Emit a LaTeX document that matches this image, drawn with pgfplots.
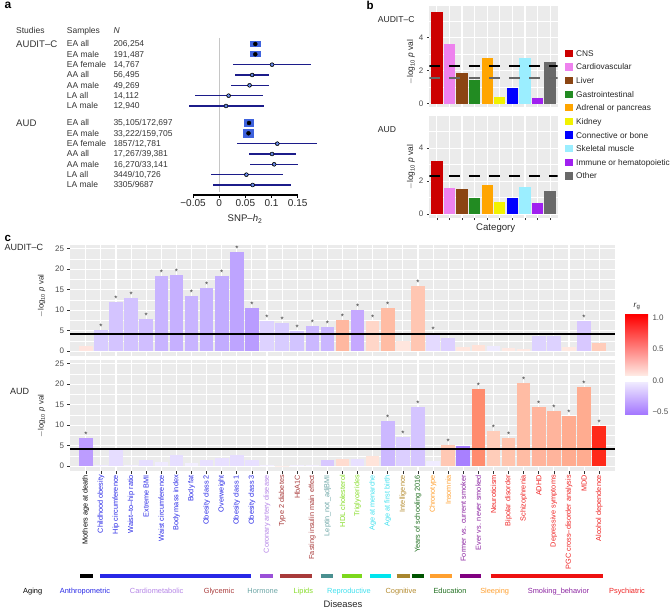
\documentclass[border=0pt]{standalone}
\usepackage{fontspec}
\setmainfont{Liberation Sans}
\setsansfont{Liberation Sans}
\usepackage{pgfplots}
\pgfplotsset{compat=1.18}

\definecolor{ggbg}{HTML}{EBEBEB}
\definecolor{ggtick}{HTML}{333333}
\definecolor{ggtext}{HTML}{4D4D4D}
\definecolor{navy}{HTML}{1C1C8A}
\definecolor{fblue}{HTML}{3F63DD}
\definecolor{fdot}{HTML}{6A8CEB}
\definecolor{bCNS}{HTML}{CC0000}
\definecolor{bCar}{HTML}{EE82EE}
\definecolor{bLiv}{HTML}{8B4513}
\definecolor{bGas}{HTML}{228B22}
\definecolor{bAdr}{HTML}{FFA500}
\definecolor{bKid}{HTML}{F2F200}
\definecolor{bCon}{HTML}{0000FF}
\definecolor{bSke}{HTML}{9BEEFF}
\definecolor{bImm}{HTML}{A020F0}
\definecolor{bOth}{HTML}{696969}
\definecolor{gAging}{HTML}{000000}
\definecolor{gAnth}{HTML}{2828E6}
\definecolor{gCard}{HTML}{B484E6}
\definecolor{gGlyc}{HTML}{A83A3A}
\definecolor{gHorm}{HTML}{6BA5A5}
\definecolor{gLip}{HTML}{86DC28}
\definecolor{gRep}{HTML}{40E0EE}
\definecolor{gCog}{HTML}{B48C30}
\definecolor{gEdu}{HTML}{1E6E1E}
\definecolor{gSlp}{HTML}{FFA030}
\definecolor{gSmk}{HTML}{8A22A0}
\definecolor{gPsy}{HTML}{EE2222}
\definecolor{lCard}{HTML}{9A50D8}
\definecolor{lHorm}{HTML}{4A9090}
\definecolor{lLip}{HTML}{7CD81C}
\definecolor{lRep}{HTML}{00E5EE}
\definecolor{lCog}{HTML}{A8862E}
\definecolor{lEdu}{HTML}{005400}
\definecolor{lSmk}{HTML}{800080}
\definecolor{lPsy}{HTML}{EE1111}
\definecolor{cbTop}{HTML}{FF0000}
\definecolor{cbLow}{HTML}{FFEAE4}
\definecolor{cbLav}{HTML}{EEE8FF}
\definecolor{cbPur}{HTML}{A274FF}

\pgfdeclareplotmark{boxAC}{\pgfpathrectangle{\pgfpoint{-5.25pt}{-3pt}}{\pgfpoint{10.5pt}{6pt}}\pgfusepathqfill}
\pgfdeclareplotmark{boxAUD}{\pgfpathrectangle{\pgfpoint{-5.25pt}{-4.25pt}}{\pgfpoint{10.5pt}{8.5pt}}\pgfusepathqfill}

\pgfplotsset{
  gg/.style={scale only axis, axis background/.style={fill=ggbg}, axis line style={draw=none},
    grid=both, major grid style={white, line width=1.1pt}, minor grid style={white, line width=0.55pt},
    tick align=outside, major tick length=2.5pt, minor tick length=0pt,
    tick style={ggtick, line width=0.7pt}, tick pos=left,
    tick label style={text=ggtext, font=\fontsize{8}{9}\selectfont}},
  cbar/.style={ybar, bar width=0.9, bar shift=0pt, draw=none, fill=#1, forget plot},
  star/.style={ybar, bar width=0.9, bar shift=0pt, draw=none, fill=none, forget plot,
    nodes near coords={*}, nodes near coords style={font=\fontsize{8}{8}\selectfont, text=ggtick, inner sep=0.3pt, anchor=south}}
}
\newcommand{\cb}[4]{\definecolor{#1}{HTML}{#4}\addplot[cbar=#1] coordinates {(#2,#3)};}
\newcommand{\cl}[2]{\textcolor{#1}{#2}}
\newcommand{\lgp}{$-$log\textsubscript{10} \textit{p} val}

\begin{document}
\begin{tikzpicture}[font=\fontsize{7.4}{8.5}\selectfont]
\path[use as bounding box] (0pt,0pt) rectangle (670pt,-609pt);

%%%%%%%%%%%%%%%% panel a : forest
\begin{axis}[at={(193pt,-195pt)}, anchor=south west, scale only axis, width=104.7pt, height=157pt,
  xmin=-0.05, xmax=0.15, ymin=-195, ymax=-38, clip=false,
  axis x line*=bottom, axis y line=none,
  xtick={-0.05,0,0.05,0.1,0.15}, xticklabels={−0.05,0,0.05,0.1,0.15},
  tick align=outside, major tick length=3pt,
  x axis line style={line width=1.2pt, black}, xtick style={line width=1pt, black},
  x tick label style={font=\fontsize{10}{11}\selectfont, text=black!85, inner sep=1.5pt}]
\addplot[gray!45, line width=1.3pt] coordinates {(0,-38) (0,-192)};
\addplot[only marks, mark=boxAC, color=fblue] coordinates {(0.069,-44) (0.069,-54.3)};
\addplot[only marks, mark=boxAUD, color=fblue] coordinates {(0.057,-123) (0.056,-133.3)};
\addplot[only marks, mark=none, error bars/.cd, x dir=both, x explicit, error mark=none,
  error bar style={draw=navy, line width=1.2pt}] coordinates {
  (0.069,-44) += (0.008,0) -= (0.008,0)
  (0.069,-54.3) += (0.008,0) -= (0.008,0)
  (0.101,-64.7) += (0.074,0) -= (0.075,0)
  (0.063,-75) += (0.032,0) -= (0.032,0)
  (0.058,-85.3) += (0.037,0) -= (0.035,0)
  (0.018,-95.7) += (0.065,0) -= (0.064,0)
  (0.013,-106) += (0.072,0) -= (0.070,0)
  (0.057,-123) += (0.008,0) -= (0.008,0)
  (0.056,-133.3) += (0.008,0) -= (0.008,0)
  (0.111,-143.7) += (0.076,0) -= (0.076,0)
  (0.101,-154) += (0.045,0) -= (0.044,0)
  (0.105,-164.3) += (0.046,0) -= (0.047,0)
  (0.052,-174.7) += (0.069,0) -= (0.068,0)
  (0.064,-185) += (0.074,0) -= (0.075,0)
};
\addplot[only marks, mark=*, mark size=1.3pt, color=fdot] coordinates {
  (0.101,-64.7) (0.063,-75) (0.058,-85.3) (0.018,-95.7) (0.013,-106)
  (0.111,-143.7) (0.101,-154) (0.105,-164.3) (0.052,-174.7) (0.064,-185)};
\end{axis}

\begin{scope}[x=1pt, y=-1pt]
\node[anchor=base west, font=\fontsize{12}{12}\selectfont\bfseries] at (1,8.5) {a};
\node[anchor=base west, font=\fontsize{11.5}{12}\selectfont\bfseries] at (363,10) {b};
\node[anchor=base west, font=\fontsize{11.5}{12}\selectfont\bfseries] at (1,241.7) {c};
\begin{scope}[every node/.style={anchor=base west, text=black!80, font=\fontsize{8.5}{10}\selectfont, inner sep=0pt}]
\node at (16,33.3) {Studies};
\node at (66.7,33.3) {Samples};
\node at (113.3,33.3) {\textit{N}};
\node[font=\fontsize{9.6}{11}\selectfont] at (16,47.3) {AUDIT–C};
\node[font=\fontsize{9.6}{11}\selectfont] at (16,126.3) {AUD};
\node at (66.7,47) {EA all};      \node at (113.3,47) {206,254};
\node at (66.7,57.3) {EA male};   \node at (113.3,57.3) {191,487};
\node at (66.7,67.7) {EA female}; \node at (113.3,67.7) {14,767};
\node at (66.7,78) {AA all};      \node at (113.3,78) {56,495};
\node at (66.7,88.3) {AA male};   \node at (113.3,88.3) {49,269};
\node at (66.7,98.7) {LA all};    \node at (113.3,98.7) {14,112};
\node at (66.7,109) {LA male};    \node at (113.3,109) {12,940};
\node at (66.7,126) {EA all};      \node at (113.3,126) {35,105/172,697};
\node at (66.7,136.3) {EA male};   \node at (113.3,136.3) {33,222/159,705};
\node at (66.7,146.7) {EA female}; \node at (113.3,146.7) {1857/12,781};
\node at (66.7,157) {AA all};      \node at (113.3,157) {17,267/39,381};
\node at (66.7,167.3) {AA male};   \node at (113.3,167.3) {16,270/33,141};
\node at (66.7,177.7) {LA all};    \node at (113.3,177.7) {3449/10,726};
\node at (66.7,188) {LA male};     \node at (113.3,188) {3305/9687};
\end{scope}
\node[anchor=base, text=black!85, font=\fontsize{9.6}{11}\selectfont] at (245,222) {SNP–\textit{h}\textsubscript{2}};
\end{scope}

%%%%%%%%%%%%%%%% panel b
\begin{axis}[gg, at={(429.3pt,-107.3pt)}, anchor=south west, width=128.4pt, height=101.3pt,
  xmin=0.4, xmax=10.6, ymin=-0.22, ymax=5.92, xtick={1,...,10}, xticklabels={}, xtick style={draw=none},
  ytick={0,2,4}, yticklabels={0,2,4}, minor ytick={1,3,5}]
\addplot[cbar=bCNS] coordinates {(1,5.58)};
\addplot[cbar=bCar] coordinates {(2,3.64)};
\addplot[cbar=bLiv] coordinates {(3,1.88)};
\addplot[cbar=bGas] coordinates {(4,1.44)};
\addplot[cbar=bAdr] coordinates {(5,2.77)};
\addplot[cbar=bKid] coordinates {(6,0.42)};
\addplot[cbar=bCon] coordinates {(7,0.95)};
\addplot[cbar=bSke] coordinates {(8,2.75)};
\addplot[cbar=bImm] coordinates {(9,0.35)};
\addplot[cbar=bOth] coordinates {(10,2.55)};
\addplot[sharp plot, black, line width=1.8pt, dash pattern=on 11pt off 9pt] coordinates {(0.4,2.3) (10.6,2.3)};
\addplot[sharp plot, black!60, line width=1.8pt, dash pattern=on 11pt off 9pt] coordinates {(0.4,1.54) (10.6,1.54)};
\end{axis}

\begin{axis}[gg, at={(429.3pt,-217.7pt)}, anchor=south west, width=128.4pt, height=101.3pt,
  xmin=0.4, xmax=10.6, ymin=-0.22, ymax=5.92, xtick={1,...,10}, xticklabels={},
  ytick={0,2,4}, yticklabels={0,2,4}, minor ytick={1,3,5}]
\addplot[cbar=bCNS] coordinates {(1,3.21)};
\addplot[cbar=bCar] coordinates {(2,1.58)};
\addplot[cbar=bLiv] coordinates {(3,1.50)};
\addplot[cbar=bGas] coordinates {(4,0.97)};
\addplot[cbar=bAdr] coordinates {(5,1.76)};
\addplot[cbar=bKid] coordinates {(6,0.71)};
\addplot[cbar=bCon] coordinates {(7,0.97)};
\addplot[cbar=bSke] coordinates {(8,1.66)};
\addplot[cbar=bImm] coordinates {(9,0.65)};
\addplot[cbar=bOth] coordinates {(10,1.38)};
\addplot[sharp plot, black, line width=1.8pt, dash pattern=on 11pt off 9pt] coordinates {(0.4,2.3) (10.6,2.3)};
\end{axis}

\begin{scope}[x=1pt, y=-1pt]
\node[anchor=base west, text=black!85, font=\fontsize{8.6}{10}\selectfont] at (374.3,22.3) {AUDIT–C};
\node[anchor=base west, text=black!85, font=\fontsize{8.6}{10}\selectfont] at (374.3,133) {AUD};
\node[rotate=90, text=black!85, font=\fontsize{8.4}{10}\selectfont] at (411,62) {\lgp};
\node[rotate=90, text=black!85, font=\fontsize{8.4}{10}\selectfont] at (411,167) {\lgp};
\node[anchor=base, text=black!85, font=\fontsize{9.6}{11}\selectfont] at (495.7,230.7) {Category};
\foreach \c/\t [count=\i from 0] in {bCNS/CNS, bCar/Cardiovascular, bLiv/Liver, bGas/Gastrointestinal, bAdr/Adrenal or pancreas, bKid/Kidney, bCon/Connective or bone, bSke/Skeletal muscle, bImm/Immune or hematopoietic, bOth/Other}{
  \fill[\c] (565.3,53.3+13.63*\i-3.6) rectangle (572.6,53.3+13.63*\i+3.6);
  \node[anchor=base west, inner sep=0pt, text=black!85, font=\fontsize{8.3}{10}\selectfont] at (576,53.3+13.63*\i+3) {\t};
}
\end{scope}

%%%%%%%%%%%%%%%% panel c upper
\begin{axis}[gg, at={(70pt,-356pt)}, anchor=south west, width=545pt, height=111pt,
  xmin=-0.05, xmax=36.05, ymin=-1.2, ymax=25.9, xtick={1,...,35}, xticklabels={}, xtick style={draw=none},
  ytick={0,5,10,15,20,25}, yticklabels={0,5,10,15,20,25}, minor ytick={2.5,7.5,12.5,17.5,22.5}]
\cb{u1}{1}{1.3}{FFE4DE}
\cb{u2}{2}{5.1}{D8CCFF}
\cb{u3}{3}{11.9}{D4C4FF}
\cb{u4}{4}{13.0}{D2C2FF}
\cb{u5}{5}{7.8}{D0BEFF}
\cb{u6}{6}{18.3}{C8B4FF}
\cb{u7}{7}{18.6}{C6B0FF}
\cb{u8}{8}{13.4}{C8B4FF}
\cb{u9}{9}{15.3}{C6B2FF}
\cb{u10}{10}{18.4}{C2ACFF}
\cb{u11}{11}{24.2}{BEA4FF}
\cb{u12}{12}{10.4}{B99CFF}
\cb{u13}{13}{7.3}{DDD2FF}
\cb{u14}{14}{6.9}{D8CCFF}
\cb{u15}{15}{5.0}{D2C4FF}
\cb{u16}{16}{6.1}{CBB8FF}
\cb{u17}{17}{5.9}{CAB6FF}
\cb{u18}{18}{7.6}{FFB8A0}
\cb{u19}{19}{10.0}{C5A8FF}
\cb{u20}{20}{7.3}{FFD6C8}
\cb{u21}{21}{10.6}{FFBCA4}
\cb{u22}{22}{2.5}{FFE6DE}
\cb{u23}{23}{16.0}{FFC6B2}
\cb{u24}{24}{4.3}{E4DAFF}
\cb{u25}{25}{3.3}{DDD0FF}
\cb{u26}{26}{0.9}{FFE6DE}
\cb{u27}{27}{1.5}{FFE2D8}
\cb{u28}{28}{1.2}{EEEAFF}
\cb{u29}{29}{0.65}{FFE8E2}
\cb{u30}{30}{0.5}{FFE8E2}
\cb{u31}{31}{3.75}{DDD2FF}
\cb{u32}{32}{3.75}{DDD2FF}
\cb{u33}{33}{0.9}{FFE8E0}
\cb{u34}{34}{7.25}{D8C8FF}
\cb{u35}{35}{2.0}{FFCCBA}
\addplot[star] coordinates {(2,5.1)(3,11.9)(4,13.0)(5,7.8)(6,18.3)(7,18.6)(8,13.4)(9,15.3)(10,18.4)(11,24.2)(12,10.4)(13,7.3)(14,6.9)(15,5.0)(16,6.1)(17,5.9)(18,7.6)(19,10.0)(20,7.3)(21,10.6)(23,16.0)(24,4.3)(34,7.25)};
\addplot[sharp plot, black, line width=1.3pt] coordinates {(-0.05,4.15) (36.05,4.15)};
\end{axis}

%%%%%%%%%%%%%%%% panel c lower
\begin{axis}[gg, at={(70pt,-471pt)}, anchor=south west, width=545pt, height=111pt,
  xmin=-0.05, xmax=36.05, ymin=-1.2, ymax=25.9, xtick={1,...,35},
  ytick={0,5,10,15,20,25}, yticklabels={0,5,10,15,20,25}, minor ytick={2.5,7.5,12.5,17.5,22.5},
  x tick label style={rotate=90, anchor=east, font=\fontsize{7.3}{8}\selectfont, inner sep=1.5pt},
  xticklabels={\cl{gAging}{Mothers age at death},
    \cl{gAnth}{Childhood obesity}, \cl{gAnth}{Hip circumference}, \cl{gAnth}{Waist–to–hip ratio},
    \cl{gAnth}{Extreme BMI}, \cl{gAnth}{Waist circumference}, \cl{gAnth}{Body mass index},
    \cl{gAnth}{Body fat}, \cl{gAnth}{Obesity class 2}, \cl{gAnth}{Overweight},
    \cl{gAnth}{Obesity class 1}, \cl{gAnth}{Obesity class 3},
    \cl{gCard}{Coronary artery disease},
    \cl{gGlyc}{Type 2 diabetes}, \cl{gGlyc}{HbA1C}, \cl{gGlyc}{Fasting insulin main effect},
    \cl{gHorm}{Leptin\_not\_adjBMI},
    \cl{gLip}{HDL cholesterol}, \cl{gLip}{Triglycerides},
    \cl{gRep}{Age at menarche}, \cl{gRep}{Age at first birth},
    \cl{gCog}{Intelligence}, \cl{gEdu}{Years of schooling 2016},
    \cl{gSlp}{Chronotype}, \cl{gSlp}{Insomnia},
    \cl{gSmk}{Former vs. current smoker}, \cl{gSmk}{Ever vs. never smoked},
    \cl{gPsy}{Neuroticism}, \cl{gPsy}{Bipolar disorder}, \cl{gPsy}{Schizophrenia}, \cl{gPsy}{ADHD},
    \cl{gPsy}{Depressive symptoms}, \cl{gPsy}{PGC cross–disorder analysis}, \cl{gPsy}{MDD},
    \cl{gPsy}{Alcohol dependence}}]
\cb{l1}{1}{6.95}{BC9CFF}
\cb{l2}{2}{0.3}{EFEAFF}
\cb{l3}{3}{3.9}{E6DDFF}
\cb{l4}{4}{0.3}{F2EEFF}
\cb{l5}{5}{1.6}{E6DEFF}
\cb{l6}{6}{1.05}{EFEAFF}
\cb{l7}{7}{2.66}{E6DEFF}
\cb{l8}{8}{0.65}{F2EEFF}
\cb{l9}{9}{1.6}{E8E0FF}
\cb{l10}{10}{2.0}{E8E0FF}
\cb{l11}{11}{2.66}{E6DDFF}
\cb{l12}{12}{1.45}{E8E0FF}
\cb{l13}{13}{0.2}{F2EEFF}
\cb{l14}{14}{0.1}{FFF0EC}
\cb{l15}{15}{0.15}{F2EEFF}
\cb{l16}{16}{0.2}{F2EEFF}
\cb{l17}{17}{1.45}{D8C8FF}
\cb{l18}{18}{1.77}{FFDCD0}
\cb{l19}{19}{1.77}{E8E0FF}
\cb{l20}{20}{2.5}{FFE4DA}
\cb{l21}{21}{10.9}{CCB8FF}
\cb{l22}{22}{7.1}{DCCFFF}
\cb{l23}{23}{14.4}{D4C4FF}
\cb{l24}{24}{1.2}{F0ECFF}
\cb{l25}{25}{5.1}{FFC8B4}
\cb{l26}{26}{4.84}{A880FF}
\cb{l27}{27}{18.8}{FF8C6E}
\cb{l28}{28}{8.55}{FFCDBA}
\cb{l29}{29}{6.95}{FFC4AE}
\cb{l30}{30}{20.2}{FFBCA4}
\cb{l31}{31}{14.5}{FFB49C}
\cb{l32}{32}{13.56}{FFB49C}
\cb{l33}{33}{12.2}{FFAC90}
\cb{l34}{34}{19.4}{FFAC90}
\cb{l35}{35}{9.77}{FF2A1A}
\addplot[star] coordinates {(1,6.95)(21,10.9)(22,7.1)(23,14.4)(25,5.1)(27,18.8)(28,8.55)(29,6.95)(30,20.2)(31,14.5)(32,13.56)(33,12.2)(34,19.4)(35,9.77)};
\addplot[sharp plot, black, line width=1.3pt] coordinates {(-0.05,4.15) (36.05,4.15)};
\end{axis}

%%%%%%%%%%%%%%%% colour bar
\begin{axis}[at={(625pt,-415pt)}, anchor=south west, scale only axis, width=23pt, height=100pt,
  xmin=0, xmax=1, ymin=-0.55, ymax=1.04, axis line style={draw=none}, xtick=\empty,
  ytick={-0.5,0,0.5,1}, yticklabels={−0.5,0.0,0.5,1.0}, ytick pos=right, major tick length=0pt,
  y tick label style={text=ggtext, font=\fontsize{8}{9}\selectfont, xshift=1pt}]
\shade[top color=cbTop, bottom color=cbLow] (axis cs:0,0.08) rectangle (axis cs:1,1.04);
\shade[top color=cbLav, bottom color=cbPur] (axis cs:0,-0.04) rectangle (axis cs:1,-0.55);
\end{axis}

\begin{scope}[x=1pt, y=-1pt]
\node[text=black!85, font=\fontsize{8}{9}\selectfont] at (637,306) {\textit{r}\textsubscript{g}};
\node[anchor=base west, text=black!85, font=\fontsize{9}{10}\selectfont] at (1,251) {AUDIT–C};
\node[anchor=base west, text=black!85, font=\fontsize{9}{10}\selectfont] at (6.7,395) {AUD};
\node[rotate=90, text=black!85, font=\fontsize{7.8}{9}\selectfont] at (41.7,296) {\lgp};
\node[rotate=90, text=black!85, font=\fontsize{7.8}{9}\selectfont] at (41.7,416) {\lgp};
% group bars
\foreach \c/\a/\b in {gAging/80/92.7, gAnth/100/250.7, lCard/260/273.3, gGlyc/280/312, lHorm/320.7/333.3,
  lLip/341.7/361.7, lRep/370/390.7, lCog/396.7/410, lEdu/411.7/424.3, gSlp/430/452, lSmk/460/481, lPsy/490.7/602.7}{
  \draw[\c, line width=3.3pt] (\a,576) -- (\b,576);
}
\foreach \c/\x/\t in {gAging/32.7/Aging, gAnth/85/Anthropometric, gCard/156.7/Cardiometabolic, gGlyc/219/Glycemic,
  gHorm/262.7/Hormone, gLip/303.3/Lipids, gRep/349/Reproductive, gCog/401/Cognitive, gEdu/450/Education,
  gSlp/494.7/Sleeping, gSmk/558.5/Smoking\_behavior, gPsy/627/Psychiatric}{
  \node[anchor=base, text=\c, font=\fontsize{7.4}{8}\selectfont] at (\x,593.8) {\t};
}
\node[anchor=base, text=black!85, font=\fontsize{9.4}{10}\selectfont] at (343,608) {Diseases};
\end{scope}
\end{tikzpicture}
\end{document}
